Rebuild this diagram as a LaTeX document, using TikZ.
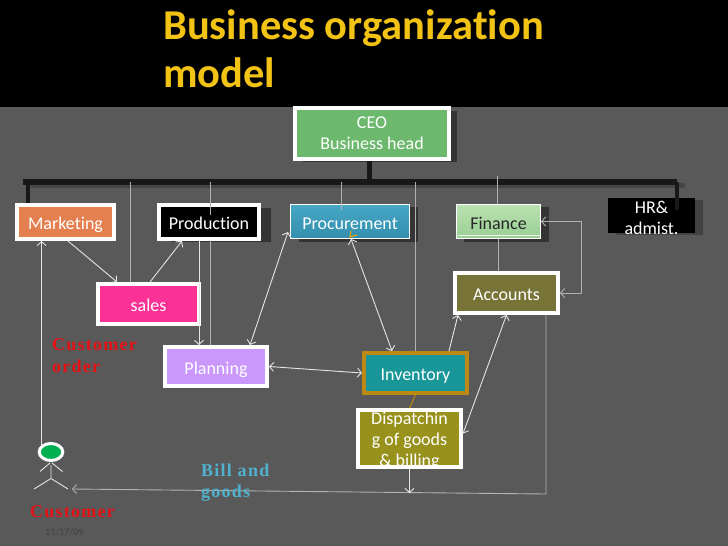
\documentclass[tikz,border=0pt]{standalone}
\usepackage{fontspec}
\setmainfont{Carlito}[Ligatures=NoCommon]
\newfontfamily\spaced[LetterSpace=7]{Liberation Serif}
\usetikzlibrary{arrows.meta,shapes.geometric,shadows}
\definecolor{bg}{RGB}{89,89,89}
\definecolor{titley}{RGB}{242,195,20}
\definecolor{ceog}{RGB}{108,184,108}
\definecolor{mktc}{RGB}{228,128,80}
\definecolor{proctop}{RGB}{72,168,198}
\definecolor{procbot}{RGB}{50,142,172}
\definecolor{fintop}{RGB}{188,226,178}
\definecolor{finbot}{RGB}{152,206,146}
\definecolor{salesc}{RGB}{250,50,150}
\definecolor{planc}{RGB}{202,152,252}
\definecolor{accc}{RGB}{120,116,55}
\definecolor{invc}{RGB}{24,150,152}
\definecolor{invb}{RGB}{188,138,20}
\definecolor{dispc}{RGB}{152,146,28}
\definecolor{shadc}{RGB}{52,52,52}
\definecolor{hrshad}{RGB}{66,66,66}
\definecolor{barc}{RGB}{24,24,24}
\definecolor{barsh}{RGB}{70,70,70}
\definecolor{linec}{RGB}{228,228,228}
\definecolor{plainc}{RGB}{178,178,178}
\definecolor{custg}{RGB}{0,176,80}
\definecolor{redc}{RGB}{228,18,20}
\definecolor{bluec}{RGB}{80,178,205}
\definecolor{datec}{RGB}{66,66,66}
\definecolor{markc}{RGB}{225,160,30}
\begin{document}
\begin{tikzpicture}[x=1pt,y=-1pt,
  box/.style={rectangle, inner sep=0pt, align=center, text=white, font=\fontsize{18}{21}\selectfont},
  one/.style={text height=17pt, text depth=2pt},
  wbox/.style={box, draw=white, line width=4pt},
  tbox/.style={box, draw=white, line width=0.8pt},
  shad/.style={drop shadow={shadow xshift=#1, shadow yshift=-3pt, fill=shadc, opacity=1}},
  plain/.style={draw=plainc, line width=0.9pt},
  arr/.style={draw=linec, line width=0.9pt, -{Straight Barb[length=4pt,width=9pt]}},
  darr/.style={draw=linec, line width=0.9pt, {Straight Barb[length=4pt,width=9pt]}-{Straight Barb[length=4pt,width=9pt]}},
  heavy/.style={draw=barc, line width=4.5pt},
  actor/.style={draw=linec, line width=0.9pt},
  redlbl/.style={text=redc, font=\spaced\bfseries\fontsize{18}{22}\selectfont, align=left, inner sep=0pt},
  bluelbl/.style={text=bluec, font=\spaced\bfseries\fontsize{18}{21}\selectfont, align=left, inner sep=0pt},
  titletxt/.style={text=titley, font=\fontsize{42.5}{51}\selectfont\bfseries, inner sep=0pt, anchor=base west}
 ]
\useasboundingbox (0,0) rectangle (728,546);
\fill[bg] (0,0) rectangle (728,546);
\fill[black] (0,0) rectangle (728,107);

% title
\node[titletxt] (title1) at (163,39) {Business organization};
\node[titletxt] (title2) at (163,87) {model};

% bar
\coordinate (barL) at (23,182);
\coordinate (barR) at (677,182);
\draw[draw=barsh, line width=5pt] ([shift={(8,3)}]barL) -- ([shift={(8,3)}]barR);
\draw[draw=barc, line width=6pt] (barL) -- (barR);

% nodes
\node[wbox, fill=ceog, minimum width=154pt, minimum height=51pt, shad=8pt] (ceo) at (372,133.5) {CEO\\Business head};
\node[wbox, one, fill=mktc, minimum width=97pt, minimum height=34pt] (marketing) at (65.5,222) {Marketing};
\node[wbox, one, fill=black, minimum width=100pt, minimum height=34pt, shad=12pt] (production) at (209,222) {Production};
\node[tbox, one, top color=proctop, bottom color=procbot, minimum width=119.2pt, minimum height=34.2pt, shad=8.5pt] (procurement) at (350,221.5) {Procurement};
\node[tbox, one, top color=fintop, bottom color=finbot, text=black!85, minimum width=84.2pt, minimum height=34.2pt, shad=8pt] (finance) at (498.5,221.5) {Finance};
\node[box, fill=black, minimum width=87pt, minimum height=35pt, drop shadow={shadow xshift=8pt, shadow yshift=-2pt, fill=hrshad, opacity=1}] (hr) at (651.5,215.5) {};
\node[box] (hrtxt) at ([shift={(0,2)}]hr.center) {HR\&\\admist.};
\node[wbox, one, fill=salesc, minimum width=101pt, minimum height=40pt] (sales) at (148.5,304) {sales};
\node[wbox, one, fill=planc, minimum width=102pt, minimum height=39pt] (planning) at (216,366.5) {Planning};
\node[wbox, one, fill=accc, minimum width=103pt, minimum height=40pt] (accounts) at (506.5,293) {Accounts};
\node[wbox, one, draw=invb, fill=invc, minimum width=103pt, minimum height=40pt] (inventory) at (415.5,373) {Inventory};
\node[wbox, fill=dispc, minimum width=103pt, minimum height=57pt] (dispatch) at (409.5,438.5) {};
\node[box] (dispatchtxt) at ([shift={(0,2)}]dispatch.center) {Dispatchin\\g of goods\\\& billing};

% finance highlight
\draw[draw=white!75!fintop, line width=1pt] ([shift={(1.5,-4)}]finance.south west) -- ([shift={(-1.5,-4)}]finance.south east);
% small orange mark in procurement
\draw[draw=markc, line width=1.2pt] ([shift={(1,-8)}]procurement.south) -- ([shift={(0,-2)}]procurement.south) -- ([shift={(7,-4)}]procurement.south);

% heavy stubs
\draw[heavy, line width=5pt] ([xshift=-3pt]ceo.south) -- ++(0,21);
\draw[heavy] ([xshift=-37.5pt]marketing.north) -- ++(0,-21);
\draw[heavy] ([xshift=25.5pt]hr.north) ++(0,12) -- ++(0,-28);

% thin lines from the bar
\draw[plain] ([xshift=-18.5pt]sales.north) -- ++(0,-100);
\draw[plain] ([xshift=1pt]production.north) ++(0,12) -- ++(0,-33);
\draw[plain] ([xshift=1pt]production.south) -- ([xshift=-6pt]planning.north);
\draw[plain] ([xshift=-9pt]procurement.north) ++(0,6) -- ++(0,-28);
\draw[plain] (inventory.north) -- ++(0,-169);
\draw[plain] ([xshift=-1.5pt]finance.north) -- ++(0,-28);
\draw[plain] (finance.south) -- (finance.south |- accounts.north);
\draw[draw=invb, line width=1pt] (inventory.south) -- (dispatch.north);

% customer actor
\node[ellipse, draw=white, line width=3pt, fill=custg, minimum width=23.6pt, minimum height=17pt, inner sep=0pt] (head) at (51,452) {};
\draw[actor] (40,471.5) -- (50,463) (52,463) -- (62.5,471.5) (51,465) -- (51,478.5) (51,478.5) -- (34,489) (51,478.5) -- (68,489);
\coordinate (custR) at (72,489);
\coordinate (corner) at (546,494);

% connectors
\draw[arr] ([xshift=2.5pt]marketing.south) -- ([xshift=-31.5pt]sales.north);
\draw[arr] ([xshift=1.5pt]sales.north) -- ([xshift=-27pt]production.south);
\draw[arr] (head.north west) -- (head.north west |- marketing.south);
\draw[arr] ([xshift=-10pt]production.south) -- ([xshift=-10pt]production.south |- planning.north);
\draw[darr] ([shift={(-2,-7)}]procurement.south west) -- ([xshift=34pt]planning.north);
\draw[darr] ([xshift=1pt]procurement.south) -- ([xshift=-23.5pt]inventory.north);
\draw[darr] (planning.east) -- (inventory.west);
\draw[arr] ([xshift=33.5pt]inventory.north) -- ([xshift=-48.5pt]accounts.south);
\draw[darr] ([shift={(0,-5)}]dispatch.east) -- (accounts.south);
\draw[darr, draw=plainc] (finance.east) -- ([xshift=40pt]finance.east) |- (accounts.east);
\draw[arr, draw=plainc] ([xshift=39.5pt]accounts.south) -- (corner) -- (custR);
\draw[arr] (dispatch.south) -- ++(0,24);

% labels
\node[redlbl, anchor=north west] (corder) at (52,338) {Customer\\order};
\node[bluelbl, anchor=north west] (billgoods) at (201,464) {Bill and\\goods};
\node[redlbl, anchor=base west] (custlbl) at (30,517) {Customer};
\node[text=datec, font=\fontsize{10}{12}\selectfont, anchor=base west, inner sep=0pt] (date) at (45,535) {11/17/09};
\end{tikzpicture}
\end{document}
